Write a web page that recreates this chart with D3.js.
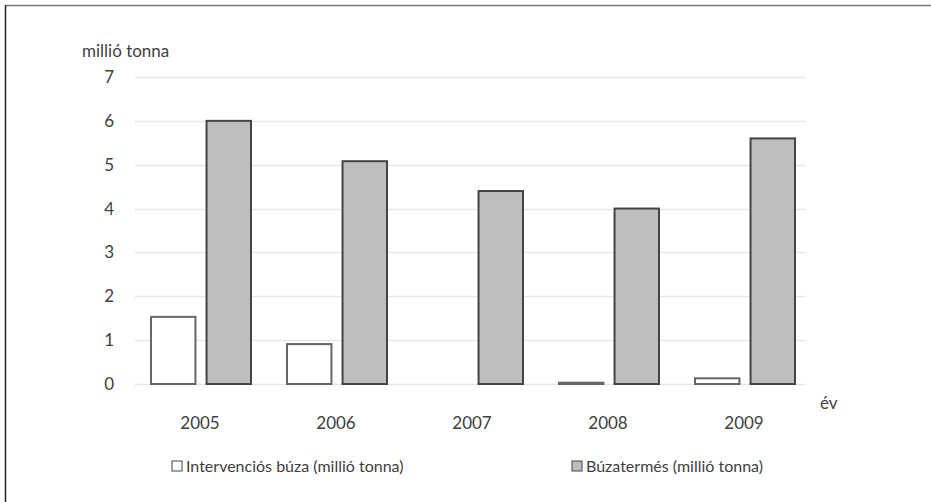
<!DOCTYPE html>
<html>
<head>
<meta charset="utf-8">
<script src="https://cdn.jsdelivr.net/npm/d3@7"></script>
<style>
body { margin:0; background:#fff; }
svg text { font-family: Lato, "Open Sans", sans-serif; fill:#404040; }
</style>
</head>
<body>
<div id="chart-area"></div>
<script>
// adatok
var years = ["2005", "2006", "2007", "2008", "2009"];
var intervencios = [1.53, 0.91, 0, 0.03, 0.13];
var buzatermes = [6.0, 5.08, 4.4, 4.0, 5.6];
var yTicks = [0, 1, 2, 3, 4, 5, 6, 7];
var seriesNames = ["Intervenciós búza (millió tonna)", "Búzatermés (millió tonna)"];

var W = 931, H = 502;
var margin = { top:77, right:119, bottom:118, left:132 };
var width = W - margin.left - margin.right;
var height = H - margin.top - margin.bottom;

var svg = d3.select("#chart-area")
	.append("svg")
		.attr("width", W)
		.attr("height", H);

// keret
svg.append("line")
	.attr("x1", 5).attr("x2", W).attr("y1", 5.5).attr("y2", 5.5)
	.attr("stroke", "#777").attr("stroke-width", 1.5);
svg.append("line")
	.attr("x1", 5.5).attr("x2", 5.5).attr("y1", 5).attr("y2", H)
	.attr("stroke", "#222").attr("stroke-width", 1.5);

var g = svg.append("g")
	.attr("transform", "translate(" + margin.left + "," + margin.top + ")");

var y = d3.scaleLinear()
	.domain([0, 7])
	.range([height, 0]);

var x = d3.scaleBand()
	.domain(years)
	.range([0, width])
	.paddingInner(0)
	.paddingOuter(0);

var x1 = d3.scaleBand()
	.domain([0, 1])
	.range([19, x.bandwidth() - 17])
	.paddingInner(0.2);

// rács
g.selectAll(".grid")
	.data(yTicks)
	.enter().append("line")
		.attr("x1", 3)
		.attr("x2", width - 7)
		.attr("y1", function(d){ return Math.round(y(d)) + 0.5; })
		.attr("y2", function(d){ return Math.round(y(d)) + 0.5; })
		.attr("stroke", "#e6e6e6")
		.attr("stroke-width", 1.5);

var leftAxis = d3.axisLeft(y)
	.tickValues(yTicks)
	.tickFormat(d3.format("d"))
	.tickSize(0)
	.tickPadding(18);
var ya = g.append("g").attr("class", "left axis").call(leftAxis);
ya.select(".domain").remove();
ya.selectAll("text").attr("font-size", "17px");

var bottomAxis = d3.axisBottom(x).tickSize(0).tickPadding(33);
var xa = g.append("g")
	.attr("class", "bottom axis")
	.attr("transform", "translate(0," + height + ")")
	.call(bottomAxis);
xa.select(".domain").remove();
xa.selectAll("text").attr("font-size", "17px");

g.append("text")
	.attr("x", -50)
	.attr("y", -20)
	.attr("font-size", "17px")
	.text("millió tonna");

g.append("text")
	.attr("x", width + 8)
	.attr("y", height + 25)
	.attr("font-size", "17px")
	.text("év");

var groups = g.selectAll(".year")
	.data(years)
	.enter().append("g")
		.attr("transform", function(d){ return "translate(" + x(d) + ",0)"; });

groups.append("rect")
	.attr("x", x1(0))
	.attr("y", function(d, i){ return y(intervencios[i]); })
	.attr("width", x1.bandwidth())
	.attr("height", function(d, i){ return height - y(intervencios[i]); })
	.attr("fill", "#fff")
	.attr("stroke", function(d, i){ return intervencios[i] > 0 ? "#666" : "none"; })
	.attr("stroke-width", 2);

groups.append("rect")
	.attr("x", x1(1))
	.attr("y", function(d, i){ return y(buzatermes[i]); })
	.attr("width", x1.bandwidth())
	.attr("height", function(d, i){ return height - y(buzatermes[i]); })
	.attr("fill", "#bdbdbf")
	.attr("stroke", "#444")
	.attr("stroke-width", 2);

// jelmagyarázat
var legendX = [40, 440];
var legendFill = ["#fff", "#bdbdbf"];
var legend = g.selectAll(".legend")
	.data(seriesNames)
	.enter().append("g")
		.attr("transform", function(d, i){ return "translate(" + legendX[i] + "," + (height + 87) + ")"; });
legend.append("rect")
	.attr("x", 0).attr("y", -10)
	.attr("width", 10).attr("height", 10)
	.attr("fill", function(d, i){ return legendFill[i]; })
	.attr("stroke", "#444").attr("stroke-width", 1);
legend.append("text")
	.attr("x", 14).attr("y", 1)
	.attr("font-size", "16px")
	.text(function(d){ return d; });
</script>
</body>
</html>
